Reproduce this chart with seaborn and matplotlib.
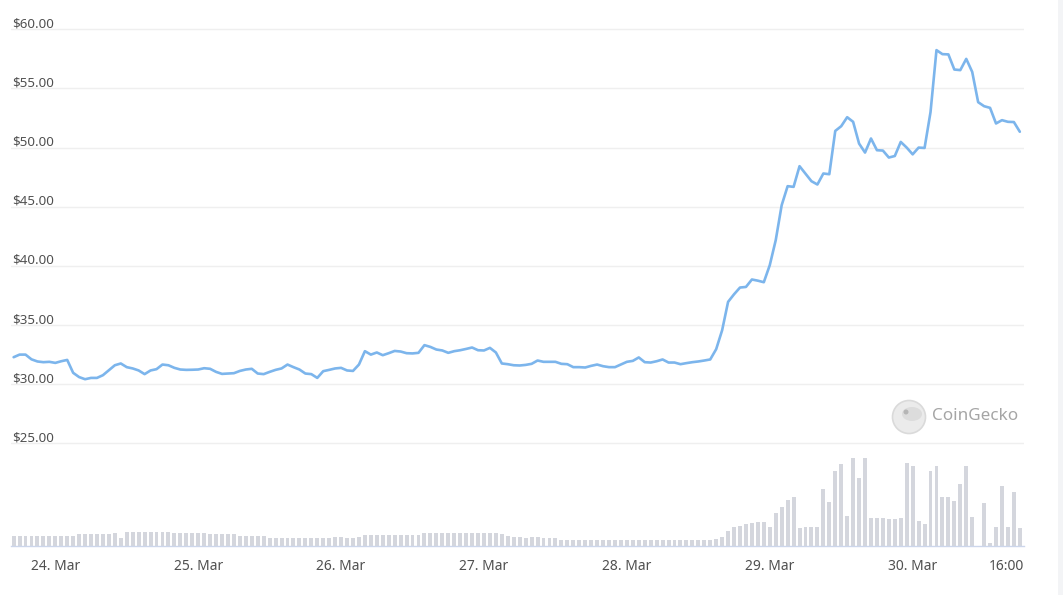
import matplotlib
matplotlib.use("Agg")
import matplotlib.pyplot as plt
import seaborn as sns
from matplotlib.patches import Circle, Rectangle, Ellipse
from matplotlib.transforms import offset_copy, ScaledTranslation

# ---- data (hours since 24 Mar 00:00) ----
hours = list(range(-7, 163))

price = [
    32.28, 32.50, 32.50, 32.10, 31.92, 31.86, 31.89,              # -7..-1
    31.80, 31.94, 32.05, 30.96, 30.60, 30.42, 30.53, 30.53,        # 0..7
    30.76, 31.18, 31.60, 31.75, 31.44, 31.33, 31.16, 30.85,        # 8..15
    31.16, 31.27, 31.66, 31.60, 31.38, 31.24, 31.21, 31.22,        # 16..23
    31.24, 31.35, 31.30, 31.04, 30.87, 30.90, 30.93, 31.12,        # 24..31
    31.24, 31.30, 30.90, 30.85, 31.04, 31.21, 31.33, 31.66,        # 32..39
    31.44, 31.24, 30.90, 30.85, 30.53, 31.10, 31.21, 31.33,        # 40..47
    31.38, 31.16, 31.12, 31.66, 32.79, 32.50, 32.68, 32.45,        # 48..55
    32.62, 32.81, 32.76, 32.62, 32.60, 32.65, 33.30, 33.15,        # 56..63
    32.93, 32.85, 32.65, 32.79, 32.87, 32.98, 33.10, 32.87,        # 64..71
    32.85, 33.07, 32.68, 31.75, 31.69, 31.60, 31.58, 31.63,        # 72..79
    31.72, 32.00, 31.89, 31.89, 31.89, 31.72, 31.69, 31.44,        # 80..87
    31.44, 31.41, 31.55, 31.66, 31.52, 31.44, 31.44, 31.66,        # 88..95
    31.89, 31.97, 32.26, 31.86, 31.83, 31.94, 32.09, 31.83,        # 96..103
    31.83, 31.69, 31.78, 31.86, 31.92, 32.00, 32.09, 32.96,        # 104..111
    34.56, 36.96, 37.60, 38.17, 38.22, 38.85, 38.75, 38.62,        # 112..119
    40.06, 42.17, 45.13, 46.74, 46.68, 48.43, 47.80, 47.16,        # 120..127
    46.88, 47.81, 47.75, 51.41, 51.81, 52.57, 52.18, 50.34,        # 128..135
    49.58, 50.77, 49.78, 49.75, 49.16, 49.29, 50.48, 50.00,        # 136..143
    49.43, 50.00, 49.97, 53.00, 58.24, 57.90, 57.88, 56.60,        # 144..151
    56.55, 57.50, 56.40, 53.84, 53.50, 53.36, 52.04, 52.32,        # 152..159
    52.18, 52.16, 51.34,                                            # 160..162
]

# traded volume (arbitrary units, relative bar heights)
volume = [
    10.0, 10.0, 10.0, 10.0, 10.0, 10.0, 10.0,                       # -7..-1
    10.0, 10.0, 10.0, 10.0, 11.7, 11.7, 11.7, 11.7,                # 0..7
    11.7, 11.7, 13.0, 7.7, 14.0, 14.0, 14.0, 14.0,                 # 8..15
    14.0, 14.0, 14.0, 14.0, 12.7, 12.7, 12.7, 12.7,                # 16..23
    12.7, 12.7, 11.7, 11.7, 11.7, 11.7, 11.7, 9.7,                 # 24..31
    9.7, 9.7, 9.7, 9.7, 7.7, 7.7, 7.7, 7.7,                        # 32..39
    7.7, 7.7, 7.7, 7.7, 7.7, 7.7, 7.7, 9.0,                        # 40..47
    9.0, 7.7, 7.7, 9.0, 11.3, 11.3, 11.3, 11.3,                    # 48..55
    11.3, 11.3, 11.3, 11.3, 11.3, 11.3, 13.0, 13.0,                # 56..63
    13.0, 13.0, 13.0, 13.0, 13.0, 13.0, 13.0, 13.0,                # 64..71
    13.0, 13.0, 12.7, 11.7, 10.3, 9.0, 9.0, 7.7,                   # 72..79
    9.0, 9.0, 7.7, 7.7, 7.7, 6.3, 6.3, 6.3,                        # 80..87
    6.3, 6.3, 6.3, 6.3, 6.3, 6.3, 6.3, 6.3,                        # 88..95
    6.3, 6.3, 6.3, 6.3, 6.3, 6.3, 6.3, 6.3,                        # 96..103
    6.3, 6.3, 6.3, 6.3, 6.3, 6.3, 6.3, 7.3,                        # 104..111
    9.3, 15.3, 19.3, 20.3, 21.7, 23.0, 24.0, 24.0,                 # 112..119
    19.3, 33.0, 39.0, 46.3, 49.0, 18.0, 19.3, 19.3,                # 120..127
    19.3, 56.7, 44.3, 74.7, 81.7, 30.3, 88.0, 68.0,                # 128..135
    88.0, 28.0, 28.0, 28.0, 26.7, 26.7, 28.0, 83.0,                # 136..143
    80.3, 25.3, 21.7, 74.7, 80.3, 49.3, 49.3, 45.3,                # 144..151
    61.7, 80.3, 29.3, 0.0, 43.0, 3.0, 19.3, 60.3,                  # 152..159
    19.3, 54.3, 18.0,                                               # 160..162
]

y_ticks = [25, 30, 35, 40, 45, 50, 55, 60]
y_tick_labels = ["$25.00", "$30.00", "$35.00", "$40.00",
                 "$45.00", "$50.00", "$55.00", "$60.00"]
x_ticks = [0, 24, 48, 72, 96, 120, 144, 161]
x_tick_labels = ["24. Mar", "25. Mar", "26. Mar", "27. Mar",
                 "28. Mar", "29. Mar", "30. Mar", "16:00"]

# ---- style ----
sns.set_theme(style="white")
plt.rcParams['font.family'] = ['Noto Sans', 'DejaVu Sans']

W, H = 1063, 595
fig = plt.figure(figsize=(W / 100, H / 100), dpi=100)
fig.patch.set_facecolor("white")

ax = fig.add_axes([11 / W, (H - 546) / H, (1024 - 11) / W, (546 - 15) / H])
axv = ax.twinx()
ax.set_zorder(2)
axv.set_zorder(1)
ax.patch.set_visible(False)

# volume bars
sns.histplot(x=hours, weights=volume, discrete=True, shrink=0.66,
             color="#d4d6dd", alpha=1.0, linewidth=0, ax=axv)
axv.set_ylim(0, 531)
axv.set_ylabel("")
axv.set_yticks([])
for s in axv.spines.values():
    s.set_visible(False)

# price line
sns.lineplot(x=hours, y=price, ax=ax, color="#7cb5ec", linewidth=1.9)
ax.set_xlim(-7.44, 162.7)
axv.set_xlim(-7.44, 162.7)
ax.set_ylim(16.32, 61.21)
ax.set_xlabel("")
ax.set_ylabel("")

ax.set_yticks(y_ticks)
ax.yaxis.grid(True, color="#efefef", linewidth=1.0)
ax.xaxis.grid(False)
ax.tick_params(axis='y', length=0, labelleft=False, labelright=False)

lab_tr = offset_copy(ax.get_yaxis_transform(), fig=fig, x=1.0, y=2.0, units='dots')
for v, lab in zip(y_ticks, y_tick_labels):
    ax.text(0.0, v, lab, transform=lab_tr, ha='left', va='baseline',
            fontsize=9.6, color="#505050")

ax.set_xticks(x_ticks)
ax.set_xticklabels(x_tick_labels)
ax.tick_params(axis='x', length=7.5, width=1.0, color="#ccd6eb",
               labelsize=10, labelcolor="#505050", pad=2.0, direction='out')
last = ax.get_xticklabels()[-1]
last.set_transform(last.get_transform() + ScaledTranslation(-7 / 100, 0, fig.dpi_scale_trans))
for name, s in ax.spines.items():
    s.set_visible(name == 'bottom')
ax.spines['bottom'].set_color("#ccd6eb")
ax.spines['bottom'].set_linewidth(1.0)

# CoinGecko watermark
logo = Circle((909 / 100, (H - 417) / 100), 0.165, transform=fig.dpi_scale_trans,
              facecolor="#ebebeb", edgecolor="#dadada", linewidth=1.2, zorder=5)
fig.add_artist(logo)
head = Ellipse((912 / 100, (H - 414) / 100), 0.2, 0.14, transform=fig.dpi_scale_trans,
               facecolor="#dcdcdc", edgecolor="none", zorder=6)
fig.add_artist(head)
eye = Circle((906 / 100, (H - 412) / 100), 0.025, transform=fig.dpi_scale_trans,
             facecolor="#b5b5b5", edgecolor="none", zorder=7)
fig.add_artist(eye)
fig.text(932 / W, 1 - 416 / H, "CoinGecko", ha='left', va='center',
         fontsize=12.3, color="#a5a5a5", fontweight='medium')

# light strip at right edge
fig.add_artist(Rectangle((1058 / W, 0), 5 / W, 1, transform=fig.transFigure,
                         facecolor="#f3f4f6", edgecolor="none"))

fig.savefig("out.png", dpi=100)
